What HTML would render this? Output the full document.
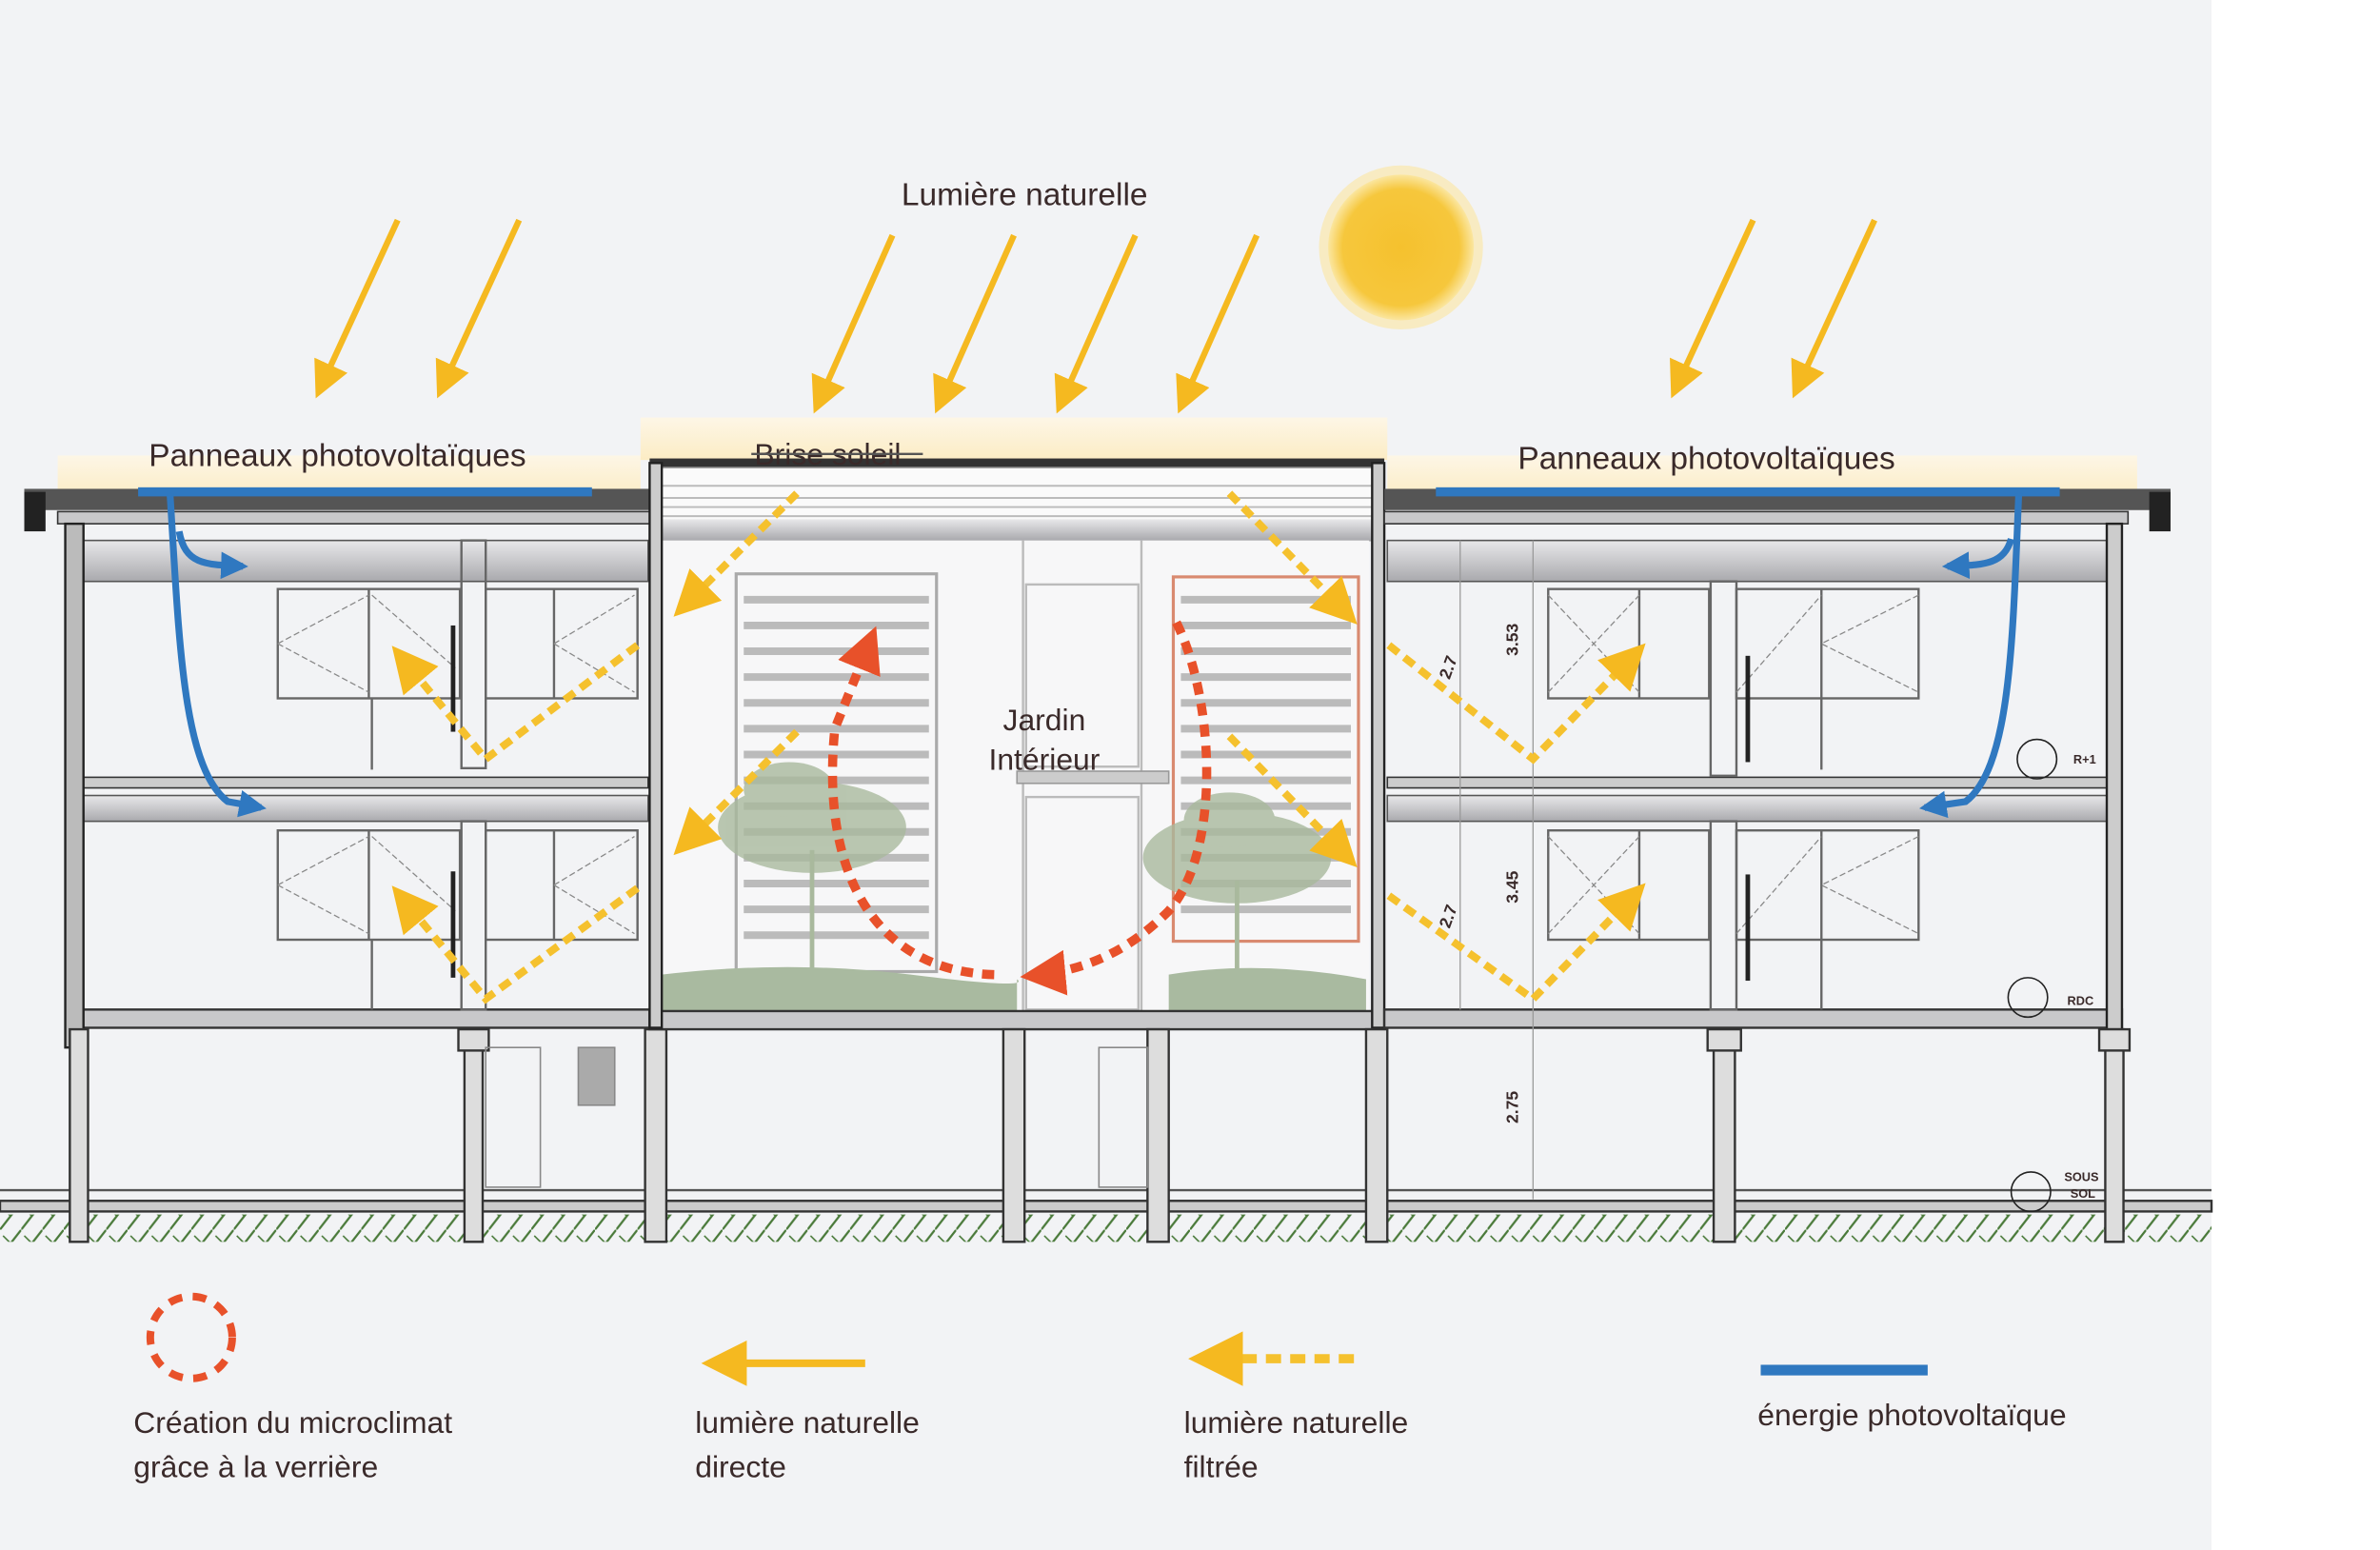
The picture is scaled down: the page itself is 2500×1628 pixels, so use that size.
<!DOCTYPE html>
<html><head><meta charset="utf-8">
<style>
html,body{margin:0;padding:0;background:#fff;}
svg{display:block;}
text{font-family:"Liberation Sans","DejaVu Sans",sans-serif;fill:#3a2a2a;}
</style></head>
<body>
<svg width="2500" height="1628" viewBox="0 0 1568 1021" preserveAspectRatio="none" xmlns="http://www.w3.org/2000/svg">
<defs>
<marker id="ya" viewBox="0 0 10 10" refX="8" refY="5" markerWidth="6" markerHeight="6" orient="auto" markerUnits="strokeWidth"><path d="M0,0 L10,5 L0,10 z" fill="#f5b920"/></marker>
<marker id="yb" viewBox="0 0 10 10" refX="8" refY="5" markerWidth="6" markerHeight="6" orient="auto" markerUnits="strokeWidth"><path d="M0,0 L10,5 L0,10 z" fill="#f5b920"/></marker>
<marker id="ra" viewBox="0 0 10 10" refX="8" refY="5" markerWidth="5" markerHeight="5" orient="auto" markerUnits="strokeWidth"><path d="M0,0 L10,5 L0,10 z" fill="#e8512a"/></marker>
<marker id="ba" viewBox="0 0 10 10" refX="8" refY="5" markerWidth="4" markerHeight="4" orient="auto" markerUnits="strokeWidth"><path d="M0,0 L10,5 L0,10 z" fill="#2f78c0"/></marker>
<radialGradient id="sun"><stop offset="0" stop-color="#f5c12e"/><stop offset="0.8" stop-color="#f6c73c"/><stop offset="1" stop-color="#fbe6a0"/></radialGradient>
<linearGradient id="glow" x1="0" y1="0" x2="0" y2="1"><stop offset="0" stop-color="#fdf6e6"/><stop offset="1" stop-color="#fcecc4"/></linearGradient>
<linearGradient id="band" x1="0" y1="0" x2="0" y2="1"><stop offset="0" stop-color="#e8e8ea"/><stop offset="1" stop-color="#a9a9ad"/></linearGradient>
<pattern id="hatch" width="14" height="18" patternUnits="userSpaceOnUse"><path d="M0,18 L14,0" stroke="#4a7a3a" stroke-width="1.4"/><path d="M2,4 L7,9" stroke="#4a7a3a" stroke-width="1"/></pattern>
</defs>

<rect x="0" y="0" width="1457" height="1021" fill="#f2f3f5"/>

<text x="675" y="135" font-size="21" text-anchor="middle">Lumière naturelle</text>
<circle cx="923" cy="163" r="54" fill="#fbe6a0" opacity="0.6"/>
<circle cx="923" cy="163" r="48" fill="url(#sun)"/>

<g stroke="#f5b920" stroke-width="4" marker-end="url(#ya)">
<line x1="262" y1="145" x2="210" y2="258"/>
<line x1="342" y1="145" x2="290" y2="258"/>
<line x1="588" y1="155" x2="538" y2="268"/>
<line x1="668" y1="155" x2="618" y2="268"/>
<line x1="748" y1="155" x2="698" y2="268"/>
<line x1="828" y1="155" x2="778" y2="268"/>
<line x1="1155" y1="145" x2="1103" y2="258"/>
<line x1="1235" y1="145" x2="1183" y2="258"/>
</g>

<rect x="38" y="300" width="384" height="28" fill="url(#glow)"/>
<rect x="422" y="275" width="492" height="28" fill="url(#glow)"/>
<rect x="914" y="300" width="494" height="28" fill="url(#glow)"/>

<rect x="0" y="800" width="1457" height="18" fill="url(#hatch)"/>
<rect x="0" y="783" width="1457" height="14" fill="#f2f3f5"/>
<line x1="0" y1="784" x2="1457" y2="784" stroke="#555" stroke-width="1.5"/>
<rect x="0" y="791" width="1457" height="7" fill="#ccc" stroke="#333" stroke-width="1.5"/>

<!-- LEFT building -->
<rect x="16" y="322" width="412" height="14" fill="#555"/>
<rect x="16" y="324" width="14" height="26" fill="#222"/>
<rect x="38" y="337" width="390" height="8" fill="#c8c8ca" stroke="#333"/>
<rect x="55" y="356" width="372" height="27" fill="url(#band)" stroke="#555" stroke-width="1"/>
<rect x="55" y="512" width="372" height="7" fill="#ccc" stroke="#333"/>
<rect x="55" y="524" width="372" height="17" fill="url(#band)" stroke="#555" stroke-width="1"/>
<rect x="45" y="665" width="383" height="12" fill="#c8c8ca" stroke="#333" stroke-width="1.5"/>
<rect x="43" y="345" width="12" height="345" fill="#bbb" stroke="#222" stroke-width="1.5"/>
<g fill="none" stroke="#666" stroke-width="1.5">
<rect x="183" y="388" width="120" height="72"/><line x1="243" y1="388" x2="243" y2="460"/>
<rect x="320" y="388" width="100" height="72"/><line x1="365" y1="388" x2="365" y2="460"/>
<rect x="183" y="547" width="120" height="72"/><line x1="243" y1="547" x2="243" y2="619"/>
<rect x="320" y="547" width="100" height="72"/><line x1="365" y1="547" x2="365" y2="619"/>
<rect x="304" y="356" width="16" height="150"/><rect x="304" y="541" width="16" height="124"/>
<line x1="245" y1="460" x2="245" y2="507"/><line x1="245" y1="619" x2="245" y2="665"/>
</g>
<g fill="none" stroke="#888" stroke-width="0.8" stroke-dasharray="4 2">
<path d="M183,424 L243,392 M183,424 L243,456 M245,392 L300,440 M365,424 L418,392 M365,424 L418,456"/>
<path d="M183,583 L243,551 M183,583 L243,615 M245,551 L300,600 M365,583 L418,551 M365,583 L418,615"/>
</g>
<rect x="297" y="412" width="3" height="70" fill="#222"/><rect x="297" y="574" width="3" height="70" fill="#222"/>
<g fill="#ddd" stroke="#333" stroke-width="1.5">
<rect x="46" y="678" width="12" height="140"/><rect x="306" y="678" width="12" height="140"/><rect x="302" y="678" width="20" height="14"/>
<rect x="425" y="678" width="14" height="140"/>
</g>
<rect x="320" y="690" width="36" height="92" fill="none" stroke="#888"/>
<rect x="381" y="690" width="24" height="38" fill="#aaa" stroke="#888"/>

<!-- CENTER atrium -->
<rect x="428" y="302" width="484" height="6" fill="#333"/>
<rect x="433" y="308" width="472" height="48" fill="#fafafa" stroke="#999"/>
<g stroke="#bbb" stroke-width="1.2"><line x1="433" y1="320" x2="905" y2="320"/><line x1="433" y1="328" x2="905" y2="328"/><line x1="433" y1="334" x2="905" y2="334"/><line x1="433" y1="340" x2="905" y2="340"/></g>
<rect x="433" y="342" width="472" height="14" fill="url(#band)"/>
<rect x="436" y="356" width="466" height="310" fill="#f7f7f8"/>
<g fill="none" stroke="#aaa" stroke-width="2">
<rect x="485" y="378" width="132" height="262"/>
<rect x="773" y="380" width="122" height="240" stroke="#d98a70"/>
</g>
<g stroke="#bbb" stroke-width="5">
<line x1="490" y1="395" x2="612" y2="395"/><line x1="490" y1="412" x2="612" y2="412"/><line x1="490" y1="429" x2="612" y2="429"/><line x1="490" y1="446" x2="612" y2="446"/><line x1="490" y1="463" x2="612" y2="463"/><line x1="490" y1="480" x2="612" y2="480"/><line x1="490" y1="497" x2="612" y2="497"/><line x1="490" y1="514" x2="612" y2="514"/><line x1="490" y1="531" x2="612" y2="531"/><line x1="490" y1="548" x2="612" y2="548"/><line x1="490" y1="565" x2="612" y2="565"/><line x1="490" y1="582" x2="612" y2="582"/><line x1="490" y1="599" x2="612" y2="599"/><line x1="490" y1="616" x2="612" y2="616"/>
<line x1="778" y1="395" x2="890" y2="395"/><line x1="778" y1="412" x2="890" y2="412"/><line x1="778" y1="429" x2="890" y2="429"/><line x1="778" y1="446" x2="890" y2="446"/><line x1="778" y1="463" x2="890" y2="463"/><line x1="778" y1="480" x2="890" y2="480"/><line x1="778" y1="497" x2="890" y2="497"/><line x1="778" y1="514" x2="890" y2="514"/><line x1="778" y1="531" x2="890" y2="531"/><line x1="778" y1="548" x2="890" y2="548"/><line x1="778" y1="565" x2="890" y2="565"/><line x1="778" y1="582" x2="890" y2="582"/><line x1="778" y1="599" x2="890" y2="599"/>
</g>
<g fill="none" stroke="#bbb" stroke-width="1.5">
<line x1="674" y1="356" x2="674" y2="666"/><line x1="752" y1="356" x2="752" y2="666"/>
<rect x="676" y="385" width="74" height="120"/><rect x="676" y="525" width="74" height="140"/>
</g>
<rect x="670" y="508" width="100" height="8" fill="#ccc" stroke="#999"/>
<g fill="#a9b99d" opacity="0.8">
<ellipse cx="535" cy="545" rx="62" ry="30"/><ellipse cx="520" cy="520" rx="30" ry="18"/>
<ellipse cx="815" cy="565" rx="62" ry="30"/><ellipse cx="810" cy="540" rx="30" ry="18"/>
</g>
<g stroke="#a9b99d" stroke-width="3"><line x1="535" y1="560" x2="535" y2="640"/><line x1="815" y1="580" x2="815" y2="640"/></g>
<path d="M436,642 Q520,632 600,642 T670,645 L670,666 L436,666 Z" fill="#a9baa0"/>
<path d="M770,642 Q830,632 900,645 L900,666 L770,666 Z" fill="#a9baa0"/>
<rect x="428" y="666" width="484" height="12" fill="#c8c8ca" stroke="#333" stroke-width="1.5"/>
<rect x="428" y="305" width="8" height="372" fill="#ccc" stroke="#222" stroke-width="1.5"/>
<rect x="904" y="305" width="8" height="372" fill="#ccc" stroke="#222" stroke-width="1.5"/>
<g fill="#ddd" stroke="#333" stroke-width="1.5">
<rect x="661" y="678" width="14" height="140"/><rect x="756" y="678" width="14" height="140"/><rect x="900" y="678" width="14" height="140"/>
</g>
<rect x="724" y="690" width="32" height="92" fill="none" stroke="#888"/>
<text x="688" y="481" font-size="20" text-anchor="middle">Jardin</text>
<text x="688" y="507" font-size="20" text-anchor="middle">Intérieur</text>

<!-- RIGHT building -->
<rect x="912" y="322" width="518" height="14" fill="#555"/>
<rect x="1416" y="324" width="14" height="26" fill="#222"/>
<rect x="912" y="337" width="490" height="8" fill="#c8c8ca" stroke="#333"/>
<rect x="914" y="356" width="476" height="27" fill="url(#band)" stroke="#555" stroke-width="1"/>
<rect x="914" y="512" width="476" height="7" fill="#ccc" stroke="#333"/>
<rect x="914" y="524" width="476" height="17" fill="url(#band)" stroke="#555" stroke-width="1"/>
<rect x="912" y="665" width="486" height="12" fill="#c8c8ca" stroke="#333" stroke-width="1.5"/>
<rect x="1388" y="345" width="10" height="345" fill="#ccc" stroke="#222" stroke-width="1.5"/>
<g fill="none" stroke="#666" stroke-width="1.5">
<rect x="1020" y="388" width="106" height="72"/><line x1="1080" y1="388" x2="1080" y2="460"/>
<rect x="1144" y="388" width="120" height="72"/><line x1="1200" y1="388" x2="1200" y2="460"/>
<rect x="1020" y="547" width="106" height="72"/><line x1="1080" y1="547" x2="1080" y2="619"/>
<rect x="1144" y="547" width="120" height="72"/><line x1="1200" y1="547" x2="1200" y2="619"/>
<rect x="1127" y="383" width="17" height="128"/><rect x="1127" y="541" width="17" height="124"/>
<line x1="1200" y1="460" x2="1200" y2="507"/><line x1="1200" y1="619" x2="1200" y2="665"/>
</g>
<g stroke="#999" stroke-width="0.8"><line x1="962" y1="356" x2="962" y2="665"/><line x1="1010" y1="356" x2="1010" y2="790"/></g>
<g fill="none" stroke="#888" stroke-width="0.8" stroke-dasharray="4 2">
<path d="M1020,392 L1080,456 M1020,456 L1080,392 M1144,456 L1200,392 M1264,392 L1200,424 L1264,456"/>
<path d="M1020,551 L1080,615 M1020,615 L1080,551 M1144,615 L1200,551 M1264,551 L1200,583 L1264,615"/>
</g>
<rect x="1150" y="432" width="3" height="70" fill="#222"/><rect x="1150" y="576" width="3" height="70" fill="#222"/>
<g font-size="11" font-weight="bold" fill="#222">
<text transform="translate(1000,432) rotate(-90)">3.53</text>
<text transform="translate(1000,595) rotate(-90)">3.45</text>
<text transform="translate(1000,740) rotate(-90)">2.75</text>
<text transform="translate(955,448) rotate(-70)">2.7</text>
<text transform="translate(955,612) rotate(-70)">2.7</text>
<text x="1366" y="503" font-size="8">R+1</text>
<text x="1362" y="662" font-size="8">RDC</text>
<text x="1360" y="778" font-size="8">SOUS</text>
<text x="1364" y="789" font-size="8">SOL</text>
</g>
<g fill="none" stroke="#222" stroke-width="1"><circle cx="1342" cy="500" r="13"/><circle cx="1336" cy="657" r="13"/><circle cx="1338" cy="785" r="13"/></g>
<g fill="#ddd" stroke="#333" stroke-width="1.5">
<rect x="1129" y="678" width="14" height="140"/><rect x="1125" y="678" width="22" height="14"/>
<rect x="1387" y="678" width="12" height="140"/><rect x="1383" y="678" width="20" height="14"/>
</g>

<rect x="91" y="321" width="299" height="6" fill="#2f78c0"/>
<rect x="946" y="321" width="411" height="6" fill="#2f78c0"/>
<text x="98" y="307" font-size="21">Panneaux photovoltaïques</text>
<text x="1000" y="309" font-size="21">Panneaux photovoltaïques</text>
<text x="497" y="306" font-size="20">Brise soleil</text>
<line x1="495" y1="299" x2="608" y2="299" stroke="#555" stroke-width="1.5"/>

<g fill="none" stroke="#2f78c0" stroke-width="4.5">
<path d="M112,325 C118,420 120,505 150,528 L172,532" marker-end="url(#ba)"/>
<path d="M118,350 C122,372 135,372 160,373" marker-end="url(#ba)"/>
<path d="M1330,325 C1326,420 1325,505 1295,528 L1268,532" marker-end="url(#ba)"/>
<path d="M1325,355 C1320,373 1305,372 1283,373" marker-end="url(#ba)"/>
</g>

<g fill="none" stroke="#f5c12e" stroke-width="5" stroke-dasharray="8 5">
<path d="M525,325 L448,402" marker-end="url(#yb)"/>
<path d="M525,482 L448,559" marker-end="url(#yb)"/>
<path d="M420,425 L320,500 L262,430" marker-end="url(#yb)"/>
<path d="M420,585 L320,658 L262,588" marker-end="url(#yb)"/>
<path d="M810,325 L890,407" marker-end="url(#yb)"/>
<path d="M810,485 L890,567" marker-end="url(#yb)"/>
<path d="M915,425 L1010,500 L1080,428" marker-end="url(#yb)"/>
<path d="M915,590 L1010,658 L1080,586" marker-end="url(#yb)"/>
</g>

<g fill="none" stroke="#e8512a" stroke-width="6" stroke-dasharray="8 6">
<path d="M655,642 C580,640 540,580 550,480 L575,418" marker-end="url(#ra)"/>
<path d="M775,410 C800,460 805,560 770,600 C740,630 710,640 678,643" marker-end="url(#ra)"/>
</g>

<circle cx="126" cy="881" r="27" fill="none" stroke="#e8512a" stroke-width="5" stroke-dasharray="9 7"/>
<text x="88" y="944" font-size="20">Création du microclimat</text>
<text x="88" y="973" font-size="20">grâce à la verrière</text>
<line x1="570" y1="898" x2="468" y2="898" stroke="#f5b920" stroke-width="5" marker-end="url(#yb)"/>
<text x="458" y="944" font-size="20">lumière naturelle</text>
<text x="458" y="973" font-size="20">directe</text>
<line x1="892" y1="895" x2="790" y2="895" stroke="#f5c12e" stroke-width="6" stroke-dasharray="10 6" marker-end="url(#yb)"/>
<text x="780" y="944" font-size="20">lumière naturelle</text>
<text x="780" y="973" font-size="20">filtrée</text>
<rect x="1160" y="899" width="110" height="7" fill="#2f78c0"/>
<text x="1158" y="939" font-size="20">énergie photovoltaïque</text>
</svg>
</body></html>
